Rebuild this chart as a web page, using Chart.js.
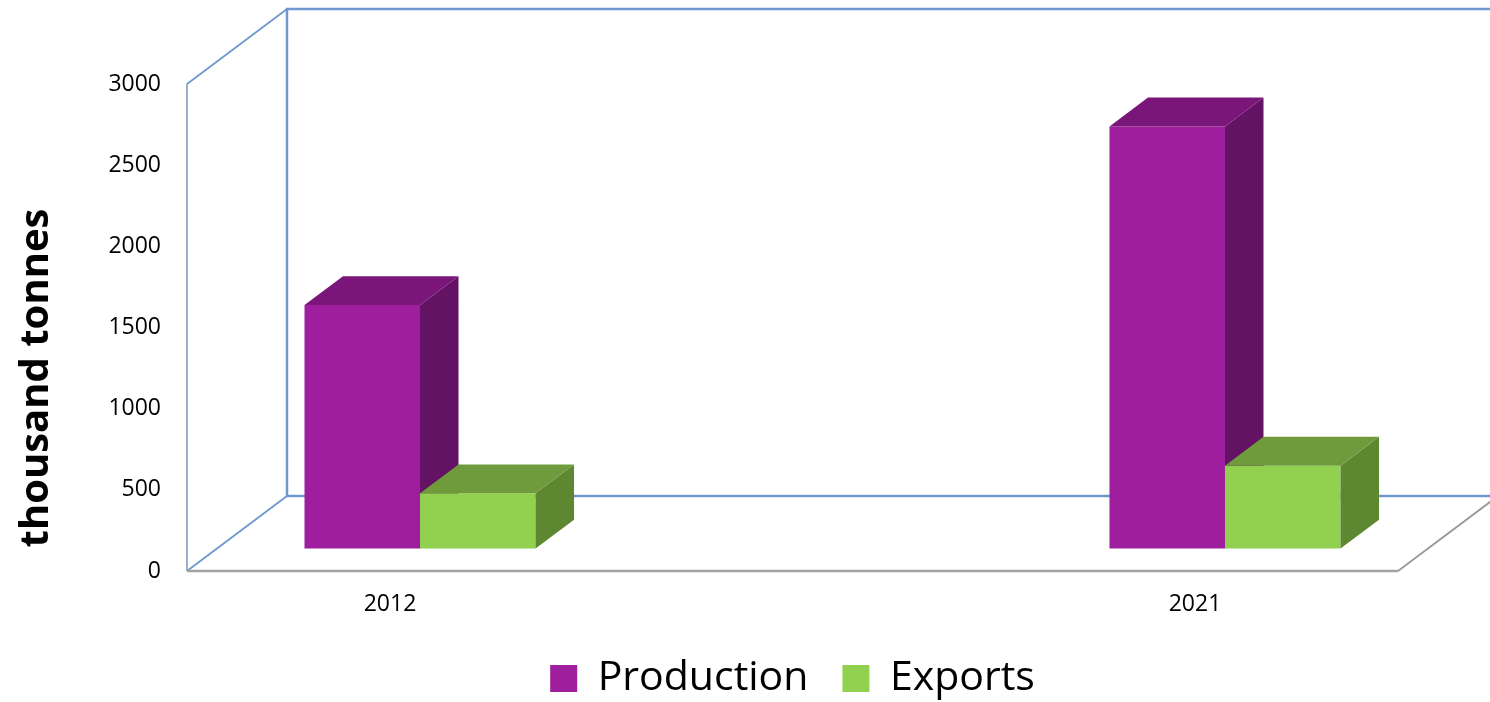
<!DOCTYPE html>
<html>
<head>
<meta charset="utf-8">
<script src="https://cdn.jsdelivr.net/npm/chart.js@4"></script>
<style>
    html, body { margin: 0; padding: 0; background: #fff; }
    canvas { display: block; }
</style>
</head>
<body>
<canvas id="chart" width="1490" height="702"></canvas>
<script>
// Chart data
const years = ['2012', '2021'];
const production = [1500, 2600];
const exportsData = [340, 510];
const yTicks = [0, 500, 1000, 1500, 2000, 2500, 3000];
const yTitle = 'thousand tonnes';

// Face colours: front, top, side
const faces = {
    Production: ['#9e1e9e', '#7a167a', '#641264'],
    Exports: ['#92d050', '#6f9b3c', '#5e8731']
};

// 3D look: depth of the walls and where the bars sit inside it
const depth = { x: 100, y: -75 };
const barFront = 0.30;
const barDepth = 0.385;

function strokePath(ctx, pts, color, width) {
    ctx.beginPath();
    ctx.moveTo(pts[0][0], pts[0][1]);
    pts.slice(1).forEach(p => ctx.lineTo(p[0], p[1]));
    ctx.strokeStyle = color;
    ctx.lineWidth = width;
    ctx.stroke();
}

function fillPath(ctx, pts, color) {
    ctx.beginPath();
    ctx.moveTo(pts[0][0], pts[0][1]);
    pts.slice(1).forEach(p => ctx.lineTo(p[0], p[1]));
    ctx.closePath();
    ctx.fillStyle = color;
    ctx.fill();
}

// Draws the walls, floor and 3D bars instead of the flat bars
const box3d = {
    id: 'box3d',
    beforeDatasetsDraw(chart) {
        const { ctx, chartArea: a } = chart;
        const dx = depth.x, dy = depth.y;
        const blue = '#6f98cf';
        ctx.save();

        // back wall
        strokePath(ctx, [[a.left + dx, a.bottom + dy], [a.left + dx, a.top + dy], [a.right + dx, a.top + dy]], blue, 2.5);
        strokePath(ctx, [[a.left + dx, a.bottom + dy], [a.right + dx, a.bottom + dy]], blue, 2.5);
        // side wall
        strokePath(ctx, [[a.left, a.top], [a.left + dx, a.top + dy]], blue, 1.8);
        strokePath(ctx, [[a.left, a.bottom], [a.left + dx, a.bottom + dy]], blue, 1.8);
        strokePath(ctx, [[a.left, a.top], [a.left, a.bottom]], '#7d96ba', 1.5);
        // floor
        strokePath(ctx, [[a.left, a.bottom], [a.right, a.bottom]], '#a3a3a3', 2.5);
        strokePath(ctx, [[a.right, a.bottom], [a.right + dx, a.bottom + dy]], '#9a9a9a', 1.8);

        // bars
        const fx = dx * barFront, fy = dy * barFront;
        const sx = dx * barDepth, sy = dy * barDepth;
        years.forEach((_, i) => {
            chart.data.datasets.forEach((ds, d) => {
                const bar = chart.getDatasetMeta(d).data[i];
                const left = bar.x - bar.width / 2 + fx;
                const right = bar.x + bar.width / 2 + fx;
                const top = bar.y + fy;
                const bottom = bar.base + fy;
                const [front, topColor, side] = faces[ds.label];
                fillPath(ctx, [[left, top], [right, top], [right, bottom], [left, bottom]], front);
                fillPath(ctx, [[right, top], [right + sx, top + sy], [right + sx, bottom + sy], [right, bottom]], side);
                fillPath(ctx, [[left, top], [left + sx, top + sy], [right + sx, top + sy], [right, top]], topColor);
            });
        });
        ctx.restore();
        return false;
    },
    afterDraw(chart) {
        const ctx = chart.ctx;
        ctx.save();
        ctx.translate(37, 378);
        ctx.rotate(-Math.PI / 2);
        ctx.font = 'bold 40px "Open Sans"';
        ctx.fillStyle = '#000';
        ctx.textAlign = 'center';
        ctx.textBaseline = 'middle';
        ctx.fillText(yTitle, 0, 0);
        ctx.restore();
    }
};

const tickFont = { family: 'Open Sans', size: 23 };

new Chart(document.getElementById('chart'), {
    type: 'bar',
    data: {
        datasets: [
            {
                label: 'Production',
                data: production.map((v, i) => ({ x: i, y: v })),
                backgroundColor: faces.Production[0],
                borderWidth: 0
            },
            {
                label: 'Exports',
                data: exportsData.map((v, i) => ({ x: i, y: v })),
                backgroundColor: faces.Exports[0],
                borderWidth: 0
            }
        ]
    },
    options: {
        responsive: false,
        animation: false,
        devicePixelRatio: 1,
        layout: { padding: { left: 0, right: 92, top: 84, bottom: -7 } },
        datasets: { bar: { categoryPercentage: 0.287, barPercentage: 1 } },
        scales: {
            x: {
                type: 'linear',
                min: -0.2522,
                max: 1.2522,
                offset: false,
                grid: { display: false, drawTicks: false },
                border: { display: false },
                afterBuildTicks: scale => { scale.ticks = years.map((_, i) => ({ value: i })); },
                afterFit: scale => { scale.height = 53; },
                ticks: {
                    callback: v => years[v],
                    font: tickFont,
                    color: '#000',
                    padding: 20,
                    autoSkip: false,
                    maxRotation: 0
                }
            },
            y: {
                min: 0,
                max: 3000,
                grid: { display: false, drawTicks: false },
                border: { display: false },
                afterBuildTicks: scale => { scale.ticks = yTicks.map(v => ({ value: v })); },
                afterFit: scale => { scale.width = 187; },
                ticks: { callback: v => String(v), font: tickFont, color: '#000', padding: 26 }
            }
        },
        plugins: {
            legend: {
                position: 'bottom',
                fullSize: false,
                labels: {
                    font: { family: 'Open Sans', size: 41 },
                    color: '#000',
                    boxWidth: 27,
                    boxHeight: 27,
                    padding: 34
                }
            },
            tooltip: { enabled: false }
        }
    },
    plugins: [box3d]
});
</script>
</body>
</html>
